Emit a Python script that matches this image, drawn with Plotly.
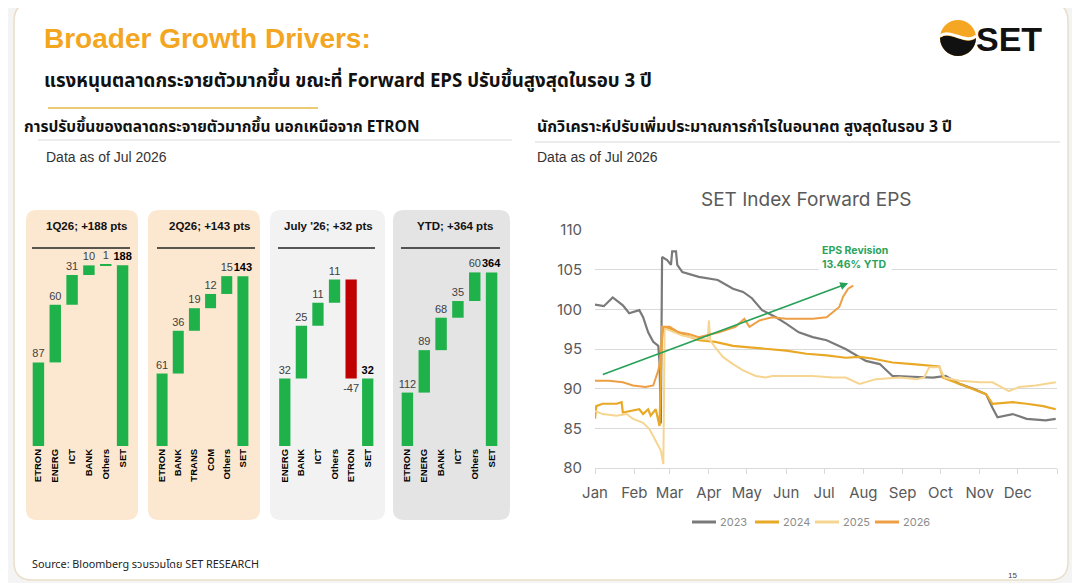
import plotly.graph_objects as go

W, H = 1080, 583
OFF = 8  # the page body margin shifts the figure by this many pixels


def px(x):
    return (x - OFF) / W


def py(y):
    return 1 - (y - OFF) / H


def rrect(x0, y0, x1, y1, r):
    pts = [("M", x0 + r, y0), ("L", x1 - r, y0), ("Q", x1, y0, x1, y0 + r),
           ("L", x1, y1 - r), ("Q", x1, y1, x1 - r, y1), ("L", x0 + r, y1),
           ("Q", x0, y1, x0, y1 - r), ("L", x0, y0 + r), ("Q", x0, y0, x0 + r, y0)]
    out = ""
    for p in pts:
        c = p[0]
        nums = p[1:]
        s = []
        for i in range(0, len(nums), 2):
            s.append(f"{px(nums[i]):.5f},{py(nums[i + 1]):.5f}")
        out += c + " " + " ".join(s) + " "
    return out + "Z"


# waterfall panels
q1_labels = ["ETRON", "ENERG", "ICT", "BANK", "Others", "SET"]
q1_values = [87, 60, 31, 10, 1, 188]
q2_labels = ["ETRON", "BANK", "TRANS", "COM", "Others", "SET"]
q2_values = [61, 36, 19, 12, 15, 143]
jul_labels = ["ENERG", "BANK", "ICT", "Others", "ETRON", "SET"]
jul_values = [32, 25, 11, 11, -47, 32]
ytd_labels = ["ETRON", "ENERG", "BANK", "ICT", "Others", "SET"]
ytd_values = [112, 89, 68, 35, 60, 364]
panel_titles = ["1Q26; +188 pts", "2Q26; +143 pts", "July '26; +32 pts", "YTD; +364 pts"]

# SET Index forward EPS (month-day, value)
eps_2023_days = ["01-01", "01-08", "01-15", "01-23", "01-28", "02-05", "02-08", "02-12", "02-16", "02-20",
                 "02-21", "02-22", "02-23", "02-27", "03-02", "03-03", "03-06", "03-07", "03-11", "03-24",
                 "04-08", "04-20", "04-28", "05-05", "05-13", "05-24", "06-01", "06-11", "06-22", "07-03",
                 "07-18", "07-26", "08-03", "08-14", "08-24", "09-09", "09-25", "10-05", "10-16", "10-27",
                 "11-06", "11-11", "11-15", "11-27", "12-08", "12-23", "12-31"]
eps_2023 = [100.6, 100.4, 101.5, 100.5, 99.5, 99.9, 99.0, 97.1, 95.9, 95.4,
            93.3, 85.6, 106.6, 106.2, 105.6, 107.3, 107.3, 105.6, 104.7, 104.1,
            103.7, 102.6, 102.2, 101.4, 99.9, 99.0, 98.2, 97.1, 96.5, 96.1,
            95.0, 94.2, 93.5, 93.1, 91.6, 91.5, 91.4, 91.6, 90.6, 90.0,
            89.3, 87.6, 86.4, 86.8, 86.2, 86.0, 86.2]

eps_2024_days = ["01-01", "01-02", "01-07", "01-18", "01-22", "01-23", "02-05", "02-08", "02-12", "02-14",
                 "02-18", "02-21", "02-23", "03-01", "03-11", "03-24", "04-06", "04-20", "05-03", "05-16",
                 "06-01", "06-17", "07-03", "07-18", "07-29", "08-08", "08-24", "09-09", "09-20", "09-30",
                 "10-03", "10-16", "10-27", "11-06", "11-11", "11-27", "12-08", "12-21", "12-31"]
eps_2024 = [86.2, 87.8, 88.1, 88.1, 88.3, 87.0, 87.4, 86.8, 87.4, 86.6,
            87.4, 85.3, 97.8, 97.6, 96.9, 96.1, 95.9, 95.4, 95.2, 95.0,
            94.8, 94.4, 94.2, 93.9, 94.0, 93.8, 93.3, 93.1, 92.9, 92.8,
            91.4, 90.6, 90.0, 89.3, 88.1, 88.3, 88.1, 87.8, 87.4]

eps_2025_days = ["01-01", "01-07", "01-18", "01-26", "01-31", "02-08", "02-13", "02-17", "02-20", "02-22",
                 "02-24", "02-25", "03-02", "03-11", "03-24", "03-31", "04-01", "04-02", "04-06", "04-12",
                 "04-20", "04-28", "05-08", "05-16", "05-21", "06-06", "06-22", "07-08", "07-18", "07-29",
                 "08-11", "08-30", "09-12", "09-18", "09-22", "09-30", "10-04", "10-16", "11-01", "11-11",
                 "11-24", "12-02", "12-15", "12-31"]
eps_2025 = [87.2, 86.8, 86.6, 86.8, 86.2, 85.7, 84.9, 83.6, 82.8, 82.2,
            80.5, 97.6, 97.3, 96.7, 96.3, 96.2, 98.6, 96.1, 95.2, 94.0,
            93.1, 92.3, 91.6, 91.4, 91.6, 91.6, 91.6, 91.4, 91.4, 90.6,
            91.2, 91.4, 91.2, 91.4, 92.7, 92.7, 91.4, 91.0, 90.8, 90.8,
            89.7, 90.2, 90.4, 90.8]

eps_2026_days = ["01-01", "01-12", "01-23", "01-31", "02-10", "02-16", "02-20", "02-21", "02-24", "03-01",
                 "03-08", "03-16", "03-24", "04-09", "04-22", "04-29", "05-03", "05-11", "05-21", "06-01",
                 "06-11", "06-22", "07-03", "07-08", "07-13", "07-16", "07-20", "07-24"]
eps_2026 = [91.0, 91.0, 90.8, 90.4, 90.2, 90.4, 92.3, 93.1, 97.8, 97.8,
            97.1, 96.9, 96.5, 97.1, 97.8, 98.8, 97.8, 98.6, 99.0, 98.8,
            98.8, 98.8, 99.0, 99.7, 100.3, 101.6, 102.6, 103.0]

month_ticks = ["Jan", "Feb", "Mar", "Apr", "May", "Jun", "Jul", "Aug", "Sep", "Oct", "Nov", "Dec"]

GREEN = "#1FB24A"
RED = "#C00000"
THAI = "Noto Sans Thai, Noto Sans Thai Looped, Loma, Garuda, Tlwg Typo, Noto Sans, sans-serif"
SANS = "Liberation Sans, Arial, sans-serif"
CHART = "Inter, sans-serif"

fig = go.Figure()

panels = [(q1_labels, q1_values), (q2_labels, q2_values), (jul_labels, jul_values), (ytd_labels, ytd_values)]
for i, (labels, values) in enumerate(panels, start=1):
    texts = [str(v) for v in values[:-1]] + [f"<b>{values[-1]}</b>"]
    colors = ["#404040"] * (len(values) - 1) + ["#000000"]
    fig.add_trace(go.Waterfall(
        x=labels, y=values,
        measure=["relative"] * (len(values) - 1) + ["absolute"],
        increasing=dict(marker=dict(color=GREEN)),
        decreasing=dict(marker=dict(color=RED)),
        totals=dict(marker=dict(color=GREEN)),
        connector=dict(visible=False),
        text=texts, textposition="outside", constraintext="none",
        textfont=dict(size=11, color=colors, family=SANS),
        cliponaxis=False, width=0.68, showlegend=False, hoverinfo="skip",
        xaxis=f"x{i}", yaxis=f"y{i}",
    ))

series = [("2023", eps_2023_days, eps_2023, "#7A7A7A", 2.2),
          ("2024", eps_2024_days, eps_2024, "#E9A825", 2.2),
          ("2025", eps_2025_days, eps_2025, "#F6D590", 2.0),
          ("2026", eps_2026_days, eps_2026, "#EE9F45", 2.0)]
for name, days, vals, color, lw in series:
    fig.add_trace(go.Scatter(
        x=["2023-" + d for d in days], y=vals, name=name, mode="lines", showlegend=False,
        line=dict(color=color, width=lw), xaxis="x5", yaxis="y5",
    ))

# layout for the panels
x_domains = [(30, 131), (154, 251), (276.5, 376), (399, 500)]
y_tops = [204, 165, 93, 411]
layout_axes = {}
for i in range(1, 5):
    a, b = x_domains[i - 1]
    layout_axes[f"xaxis{i}"] = dict(
        domain=[px(a), px(b)], anchor=f"y{i}", tickangle=-90, showgrid=False,
        zeroline=False, showline=False, ticks="", automargin=False,
        tickfont=dict(size=9.5, family=SANS, color="black", weight="bold"))
    layout_axes[f"yaxis{i}"] = dict(
        domain=[py(446), py(250)], anchor=f"x{i}", range=[0, y_tops[i - 1]], visible=False,
        automargin=False)

tickvals = [f"2023-{m:02d}-01" for m in range(1, 13)] + ["2024-01-01"]
layout_axes["xaxis5"] = dict(
    domain=[px(595), px(1057)], anchor="y5", type="date", automargin=False,
    range=["2023-01-01", "2024-01-01"], tickvals=tickvals, ticktext=month_ticks + [""],
    showline=True, linecolor="#D9D9D9", ticks="outside", tickcolor="#D9D9D9", ticklen=5,
    showgrid=False, ticklabelstandoff=6,
    tickfont=dict(size=15, color="#595959", family=CHART))
layout_axes["yaxis5"] = dict(
    domain=[py(468), py(230)], anchor="x5", range=[80, 110], dtick=5, automargin=False,
    showgrid=True, gridcolor="#D9D9D9", zeroline=False, showline=False,
    ticklabelstandoff=12, tickfont=dict(size=15, color="#595959", family=CHART))

shapes = [
    dict(type="path", path=rrect(14, 3, 1068, 580, 18), xref="paper", yref="paper",
         line=dict(color="#E9DFC9", width=1.5), fillcolor="white", layer="below"),
    dict(type="line", xref="paper", yref="paper", x0=px(48), x1=px(318), y0=py(108), y1=py(108),
         line=dict(color="#EBCB74", width=2)),
    dict(type="line", xref="paper", yref="paper", x0=px(38), x1=px(512), y0=py(140), y1=py(140),
         line=dict(color="#DADADA", width=1.2)),
    dict(type="line", xref="paper", yref="paper", x0=px(535), x1=px(1060), y0=py(142), y1=py(142),
         line=dict(color="#DADADA", width=1.2)),
]

panel_boxes = [(26, 138, "#FCE8D0"), (148, 260, "#FCE8D0"), (270, 385, "#F2F2F2"), (393, 510, "#E4E4E4")]
title_right = [130, 253, 375, 495]
rule_x = [(32, 130), (157, 255), (278, 375), (401, 500)]
for (a, b, col) in panel_boxes:
    shapes.append(dict(type="path", path=rrect(a, 210, b, 520, 11), xref="paper", yref="paper",
                       line=dict(width=0), fillcolor=col, layer="below"))
for (a, b) in rule_x:
    shapes.append(dict(type="line", xref="paper", yref="paper", x0=px(a), x1=px(b),
                       y0=py(248), y1=py(248), line=dict(color="#222222", width=1.5)))

# SET logo
cx, cy, r = 958, 38, 18
k = 0.5523 * r
shapes.append(dict(type="circle", xref="paper", yref="paper", x0=px(cx - r), x1=px(cx + r),
                   y0=py(cy + r), y1=py(cy - r), fillcolor="#F5A623", line=dict(width=0)))
black_path = (f"M {px(cx - r):.5f},{py(cy):.5f} "
              f"C {px(cx - 8):.5f},{py(cy - 8):.5f} {px(cx + 8):.5f},{py(cy + 9):.5f} {px(cx + r):.5f},{py(cy):.5f} "
              f"C {px(cx + r):.5f},{py(cy + k):.5f} {px(cx + k):.5f},{py(cy + r):.5f} {px(cx):.5f},{py(cy + r):.5f} "
              f"C {px(cx - k):.5f},{py(cy + r):.5f} {px(cx - r):.5f},{py(cy + k):.5f} {px(cx - r):.5f},{py(cy):.5f} Z")
shapes.append(dict(type="path", path=black_path, xref="paper", yref="paper",
                   fillcolor="#111111", line=dict(width=0)))
wave = (f"M {px(cx - r):.5f},{py(cy - 2):.5f} "
        f"C {px(cx - 8):.5f},{py(cy - 10):.5f} {px(cx + 8):.5f},{py(cy + 7):.5f} {px(cx + r):.5f},{py(cy - 2):.5f}")
shapes.append(dict(type="path", path=wave, xref="paper", yref="paper",
                   line=dict(color="white", width=3)))

annotations = [
    dict(text="<b>Broader Growth Drivers:</b>", x=px(42), y=py(38), font=dict(size=28, color="#F3A61F", family=SANS)),
    dict(text="แรงหนุนตลาดกระจายตัวมากขึ้น ขณะที่ Forward EPS ปรับขึ้นสูงสุดในรอบ 3 ปี",
         x=px(42), y=py(81), font=dict(size=18.7, color="#111111", family=THAI, weight="bold")),
    dict(text="<b>การปรับขึ้นของตลาดกระจายตัวมากขึ้น นอกเหนือจาก ETRON</b>", x=px(22), y=py(127),
         font=dict(size=15.5, color="#111111", family=THAI)),
    dict(text="Data as of Jul 2026", x=px(44), y=py(157), font=dict(size=14, color="#333333", family=SANS)),
    dict(text="<b>นักวิเคราะห์ปรับเพิ่มประมาณการกำไรในอนาคต สูงสุดในรอบ 3 ปี</b>", x=px(535), y=py(127),
         font=dict(size=15.8, color="#111111", family=THAI)),
    dict(text="Data as of Jul 2026", x=px(535), y=py(157), font=dict(size=14, color="#333333", family=SANS)),
    dict(text="SET Index Forward EPS", x=px(806), y=py(200), xanchor="center",
         font=dict(size=19, color="#595959", family=CHART)),
    dict(text="<b>EPS Revision<br>13.46% YTD</b>", x=px(818), y=py(257), align="left",
         bgcolor="white", borderpad=3, font=dict(size=10.5, color="#2BA35B", family=CHART)),
    dict(text="Source: Bloomberg รวบรวมโดย SET RESEARCH", x=px(30), y=py(565),
         font=dict(size=10.8, color="#222222", family=THAI)),
    dict(text="15", x=px(1006), y=py(575), font=dict(size=8, color="#444444", family=SANS)),
    dict(text="<b>SET</b>", x=px(974), y=py(39), font=dict(size=34, color="#111111", family=SANS)),
]
for i, t in enumerate(panel_titles):
    annotations.append(dict(text=f"<b>{t}</b>", x=px(title_right[i]), y=py(226), xanchor="right",
                            font=dict(size=11.5, color="#111111", family=SANS)))

# legend drawn by hand so the entries sit as tight as in the reference
legend_x = [692, 755, 815, 875]
for (name, _, _, color, _), lx in zip(series, legend_x):
    shapes.append(dict(type="line", xref="paper", yref="paper", x0=px(lx), x1=px(lx + 24),
                       y0=py(522), y1=py(522), line=dict(color=color, width=3)))
    annotations.append(dict(text=name, x=px(lx + 26), y=py(522),
                            font=dict(size=11, color="#8C8C8C", family=CHART)))

for a in annotations:
    a.setdefault("xref", "paper")
    a.setdefault("yref", "paper")
    a.setdefault("xanchor", "left")
    a.setdefault("yanchor", "middle")
    a.setdefault("showarrow", False)

annotations.append(dict(
    x="2023-07-20", y=103.3, ax="2023-01-06", ay=91.7, xref="x5", yref="y5", axref="x5", ayref="y5",
    text="", showarrow=True, arrowhead=2, arrowsize=1, arrowwidth=1.6, arrowcolor="#27A158"))

fig.update_layout(
    width=W, height=H, margin=dict(l=0, r=0, t=0, b=0, autoexpand=False),
    paper_bgcolor="#F4F4F4", plot_bgcolor="rgba(0,0,0,0)",
    showlegend=False,
    shapes=shapes, annotations=annotations,
    **layout_axes,
)

fig.write_html("out.html")
